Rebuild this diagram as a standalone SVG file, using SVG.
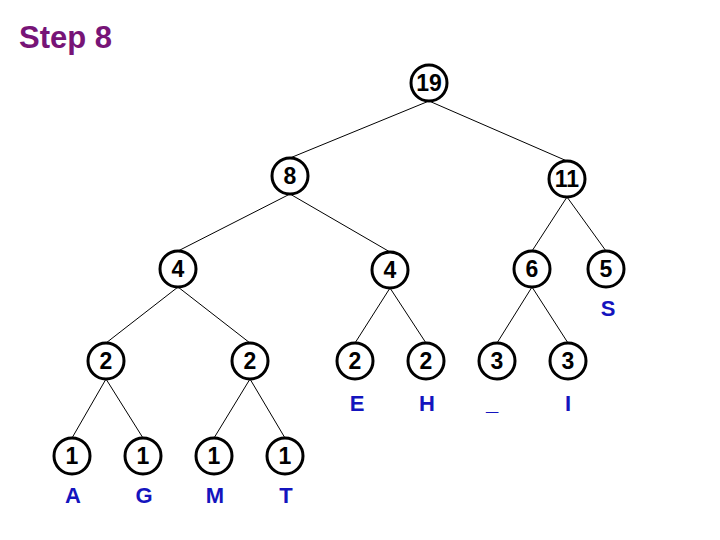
<svg xmlns="http://www.w3.org/2000/svg" width="720" height="540" viewBox="0 0 720 540">
<style>
.n circle{fill:#fff;stroke:#000;stroke-width:3}
.n text{font-family:"Liberation Sans",Arial,sans-serif;font-weight:bold;font-size:23px;fill:#000;text-anchor:middle}
.n text.lab{font-size:22px;fill:#1414BE}
.e line{stroke:#000;stroke-width:1}
.title{font-family:"Liberation Sans",Arial,sans-serif;font-weight:bold;font-size:31px;fill:#771477}
</style>
<rect width="720" height="540" fill="#fff"/>
<text class="title" x="19" y="48">Step 8</text>
<g id="connectors" class="e">
<line x1="429" y1="101" x2="290" y2="158"/>
<line x1="429" y1="101" x2="567" y2="161"/>
<line x1="290" y1="194" x2="178" y2="251"/>
<line x1="290" y1="194" x2="390" y2="252"/>
<line x1="567" y1="197" x2="532" y2="251"/>
<line x1="567" y1="197" x2="606" y2="251"/>
<line x1="178" y1="287" x2="106" y2="343"/>
<line x1="178" y1="287" x2="250" y2="343"/>
<line x1="390" y1="288" x2="355" y2="343"/>
<line x1="390" y1="288" x2="426" y2="343"/>
<line x1="532" y1="287" x2="497" y2="343"/>
<line x1="532" y1="287" x2="568" y2="343"/>
<line x1="106" y1="379" x2="72" y2="438"/>
<line x1="106" y1="379" x2="143" y2="438"/>
<line x1="250" y1="379" x2="214" y2="438"/>
<line x1="250" y1="379" x2="285" y2="438"/>
</g>
<g id="n19" class="n"><circle cx="429" cy="83" r="18"/><text x="429" y="91">19</text></g>
<g id="n8" class="n"><circle cx="290" cy="176" r="18"/><text x="290" y="184">8</text></g>
<g id="n11" class="n"><circle cx="567" cy="179" r="18"/><text x="567" y="187">11</text></g>
<g id="n4a" class="n"><circle cx="178" cy="269" r="18"/><text x="178" y="277">4</text></g>
<g id="n4b" class="n"><circle cx="390" cy="270" r="18"/><text x="390" y="278">4</text></g>
<g id="n6" class="n"><circle cx="532" cy="269" r="18"/><text x="532" y="277">6</text></g>
<g id="n5" class="n"><circle cx="606" cy="269" r="18"/><text x="606" y="277">5</text><text class="lab" x="608" y="316">S</text></g>
<g id="n2a" class="n"><circle cx="106" cy="361" r="18"/><text x="106" y="369">2</text></g>
<g id="n2b" class="n"><circle cx="250" cy="361" r="18"/><text x="250" y="369">2</text></g>
<g id="n2E" class="n"><circle cx="355" cy="361" r="18"/><text x="355" y="369">2</text><text class="lab" x="357" y="411">E</text></g>
<g id="n2H" class="n"><circle cx="426" cy="361" r="18"/><text x="426" y="369">2</text><text class="lab" x="427" y="411">H</text></g>
<g id="n3a" class="n"><circle cx="497" cy="361" r="18"/><text x="497" y="369">3</text><text class="lab" x="492" y="410">_</text></g>
<g id="n3b" class="n"><circle cx="568" cy="361" r="18"/><text x="568" y="369">3</text><text class="lab" x="568" y="411">I</text></g>
<g id="n1A" class="n"><circle cx="72" cy="456" r="18"/><text x="72" y="464">1</text><text class="lab" x="73" y="503">A</text></g>
<g id="n1G" class="n"><circle cx="143" cy="456" r="18"/><text x="143" y="464">1</text><text class="lab" x="144" y="503">G</text></g>
<g id="n1M" class="n"><circle cx="214" cy="456" r="18"/><text x="214" y="464">1</text><text class="lab" x="215" y="503">M</text></g>
<g id="n1T" class="n"><circle cx="285" cy="456" r="18"/><text x="285" y="464">1</text><text class="lab" x="286" y="503">T</text></g>
</svg>
